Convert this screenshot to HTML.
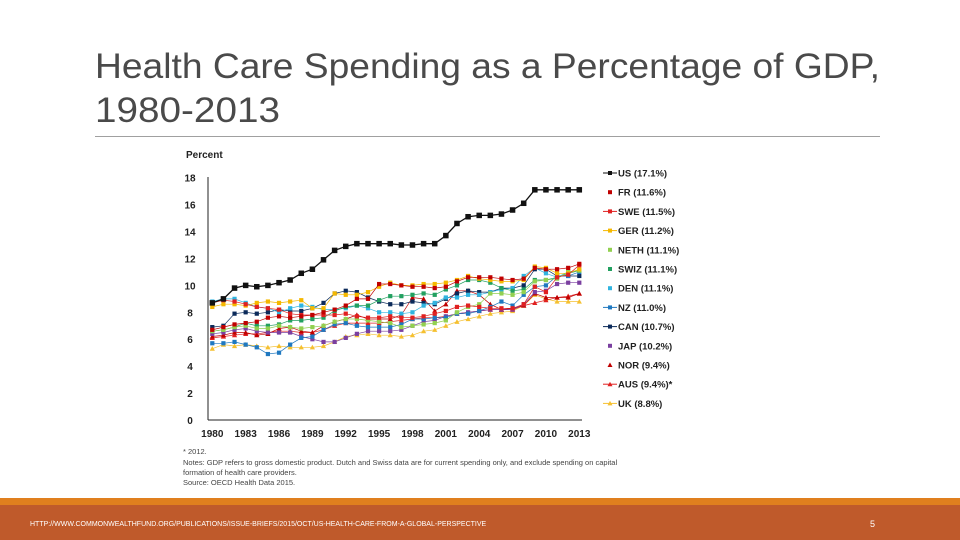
<!DOCTYPE html>
<html><head><meta charset="utf-8"><style>
body{margin:0;width:960px;height:540px;overflow:hidden;background:#fff;font-family:"Liberation Sans",sans-serif}
svg{display:block}
</style></head><body>
<svg id="s" width="960" height="540" viewBox="0 0 960 540">
<text x="95" y="78" font-size="35" fill="#4a4a4a" textLength="785" lengthAdjust="spacingAndGlyphs">Health Care Spending as a Percentage of GDP,</text>
<text x="95" y="122" font-size="35" fill="#4a4a4a" textLength="185" lengthAdjust="spacingAndGlyphs">1980-2013</text>
<line x1="95" y1="136.5" x2="880" y2="136.5" stroke="#a0a0a0" stroke-width="1"/>
<text x="186" y="158" font-size="10" font-weight="bold" fill="#222">Percent</text>
<g id="axes"></g>
<g id="series"></g>
<g id="legend"></g>
<g font-size="7.5" fill="#444">
<text x="183" y="454">* 2012.</text>
<text x="183" y="465">Notes: GDP refers to gross domestic product. Dutch and Swiss data are for current spending only, and exclude spending on capital</text>
<text x="183" y="475">formation of health care providers.</text>
<text x="183" y="485">Source: OECD Health Data 2015.</text>
</g>
<rect x="0" y="498" width="960" height="7" fill="#e07f1e"/>
<rect x="0" y="505" width="960" height="35" fill="#bf5a2b"/>
<text x="30" y="526" font-size="7" fill="#fff">HTTP://WWW.COMMONWEALTHFUND.ORG/PUBLICATIONS/ISSUE-BRIEFS/2015/OCT/US-HEALTH-CARE-FROM-A-GLOBAL-PERSPECTIVE</text>
<text x="870" y="527" font-size="9" fill="#fff">5</text>
</svg>
<script>
const years=[];for(let y=1980;y<=2013;y++)years.push(y);
const yTicks=[0,2,4,6,8,10,12,14,16,18];
const xTickLabels=[1980,1983,1986,1989,1992,1995,1998,2001,2004,2007,2010,2013];
const seriesNames=["US","FR","SWE","GER","NETH","SWIZ","DEN","NZ","CAN","JAP","NOR","AUS","UK"];
const legendLabels=["US (17.1%)","FR (11.6%)","SWE (11.5%)","GER (11.2%)","NETH (11.1%)","SWIZ (11.1%)","DEN (11.1%)","NZ (11.0%)","CAN (10.7%)","JAP (10.2%)","NOR (9.4%)","AUS (9.4%)*","UK (8.8%)"];
const US=[8.7,9.0,9.8,10.0,9.9,10.0,10.2,10.4,10.9,11.2,11.9,12.6,12.9,13.1,13.1,13.1,13.1,13.0,13.0,13.1,13.1,13.7,14.6,15.1,15.2,15.2,15.3,15.6,16.1,17.1,17.1,17.1,17.1,17.1];
const FR=[6.7,6.9,7.1,7.2,7.3,7.6,7.7,7.6,7.7,7.8,8.0,8.2,8.5,9.0,9.0,10.1,10.1,10.0,9.9,9.9,9.8,9.9,10.3,10.6,10.6,10.6,10.5,10.4,10.5,11.3,11.2,11.2,11.3,11.6];
const SWE=[8.7,8.9,8.8,8.6,8.4,8.3,8.2,7.9,7.8,7.8,7.8,7.8,7.9,7.7,7.6,7.6,7.7,7.6,7.6,7.7,7.9,8.1,8.4,8.5,8.4,8.3,8.3,8.3,8.6,9.9,9.5,10.6,10.8,11.5];
const GER=[8.4,8.6,8.6,8.5,8.7,8.8,8.7,8.8,8.9,8.3,8.3,9.4,9.3,9.3,9.5,9.9,10.2,10.0,10.0,10.1,10.1,10.2,10.4,10.7,10.5,10.4,10.3,10.3,10.4,11.4,11.3,10.9,10.9,11.2];
const NETH=[6.6,6.7,6.9,7.0,6.8,6.8,7.0,6.9,6.8,6.9,7.0,7.3,7.5,7.5,7.4,7.3,7.2,6.9,7.0,7.1,7.2,7.4,8.0,8.4,8.6,9.4,9.4,9.3,9.5,10.3,10.4,10.5,11.0,11.1];
const SWIZ=[6.6,6.7,6.9,7.2,7.0,7.0,7.1,7.4,7.4,7.5,7.6,8.1,8.4,8.5,8.5,8.9,9.2,9.2,9.3,9.4,9.3,9.7,10.0,10.4,10.4,10.2,9.8,9.6,9.7,10.4,10.4,10.6,10.9,11.1];
const DEN=[8.8,9.0,9.0,8.7,8.4,8.3,8.0,8.3,8.5,8.4,8.2,8.2,8.3,8.5,8.3,8.0,8.0,7.9,8.0,8.5,8.7,9.1,9.1,9.3,9.3,9.5,9.7,9.8,10.7,11.3,10.9,10.6,11.0,11.1];
const NZ=[5.7,5.7,5.8,5.6,5.4,4.9,5.0,5.6,6.1,6.2,6.7,7.1,7.2,7.0,6.9,6.9,6.9,7.1,7.5,7.5,7.6,7.6,7.9,7.9,8.1,8.4,8.8,8.5,9.3,9.9,10.0,10.7,10.7,11.0];
const CAN=[6.9,7.0,7.9,8.0,7.9,8.0,8.2,8.1,8.1,8.3,8.7,9.4,9.6,9.5,9.1,8.8,8.6,8.6,8.8,8.7,8.6,9.0,9.4,9.6,9.5,9.5,9.8,9.8,10.0,11.2,11.2,10.7,10.7,10.7];
const JAP=[6.4,6.5,6.7,6.8,6.6,6.5,6.5,6.5,6.2,6.0,5.8,5.8,6.1,6.4,6.6,6.6,6.6,6.7,7.0,7.3,7.4,7.7,7.9,8.0,8.1,8.2,8.2,8.2,8.6,9.5,9.6,10.1,10.2,10.2];
const NOR=[6.2,6.3,6.5,6.5,6.3,6.4,6.8,6.9,6.6,6.5,7.0,7.3,7.5,7.8,7.5,7.5,7.5,7.8,9.1,9.0,8.1,8.6,9.6,9.6,9.3,8.6,8.2,8.3,8.5,9.4,9.1,9.1,9.1,9.4];
const AUS=[6.1,6.2,6.3,6.4,6.4,6.5,6.6,6.6,6.5,6.5,6.7,7.0,7.2,7.2,7.2,7.2,7.3,7.4,7.5,7.6,7.6,7.7,7.9,8.0,8.1,8.2,8.2,8.2,8.5,8.7,8.9,9.1,9.2,9.4];
const UK=[5.3,5.6,5.5,5.6,5.5,5.4,5.5,5.4,5.4,5.4,5.5,5.8,6.2,6.3,6.4,6.3,6.3,6.2,6.3,6.6,6.7,7.0,7.3,7.5,7.7,7.9,8.0,8.1,8.5,9.3,9.0,8.8,8.8,8.8];
const seriesValues=[US,FR,SWE,GER,NETH,SWIZ,DEN,NZ,CAN,JAP,NOR,AUS,UK];
const colors=["#111","#c00000","#e02020","#f5b800","#92d050","#22a060","#30b4e0","#1f78c0","#0b2a5a","#7a3fa0","#c00000","#e02020","#f5c030"];
const markers=["sq","sq","sq","sq","sq","sq","sq","sq","sq","sq","tri","tri","tri"];
const ns="http://www.w3.org/2000/svg";
const X=y=>212.3+(y-1980)*(367/33);
const Y=v=>420-v*(242.3/18);
function mk(t,a,p){const e=document.createElementNS(ns,t);for(const k in a)e.setAttribute(k,a[k]);p.appendChild(e);return e;}
const ax=document.getElementById('axes');
const yaxis=mk('line',{x1:208,y1:177,x2:208,y2:420,stroke:'#222','stroke-width':1},ax);


const xaxis=mk('line',{x1:208,y1:420,x2:582,y2:420,stroke:'#222','stroke-width':1},ax);


yTicks.forEach(v=>{const t=mk('text',{x:190,y:Y(v)+4,'font-size':10,'font-weight':'bold',fill:'#222','text-anchor':'middle'},ax);t.textContent=v;

});
xTickLabels.forEach(v=>{const t=mk('text',{x:X(v),y:437,'font-size':10,'font-weight':'bold',fill:'#222','text-anchor':'middle'},ax);t.textContent=v;

});
const sg=document.getElementById('series');
function marker(kind,x,y,c,s,g){if(kind==='sq')return mk('rect',{x:x-s/2,y:y-s/2,width:s,height:s,fill:c},g);
return mk('path',{d:`M${x},${y-s/2-0.5}L${x+s/2+0.5},${y+s/2}L${x-s/2-0.5},${y+s/2}Z`,fill:c},g);}
for(let i=seriesValues.length-1;i>=0;i--){const vals=seriesValues[i];
const g=mk('g',{},sg);


const pts=vals.map((v,j)=>X(years[j]).toFixed(1)+','+Y(v).toFixed(1)).join(' ');
const pl=mk('polyline',{points:pts,fill:'none',stroke:colors[i],'stroke-width':i===0?1.3:0.7},g);


vals.forEach((v,j)=>{const m=marker(markers[i],X(years[j]),Y(v),colors[i],i===0?5.5:4.2,g);

});}
const lg=document.getElementById('legend');
legendLabels.forEach((l,i)=>{const y=173+i*19.2;const g=mk('g',{},lg);


const hasLine=[0,2,3,7,8,11,12].includes(i);
if(hasLine)mk('line',{x1:603,y1:y,x2:617,y2:y,stroke:colors[i],'stroke-width':1},g);
marker(markers[i],610,y,colors[i],4,g);
const t=mk('text',{x:618,y:y+3.5,'font-size':9.5,'font-weight':'bold',fill:'#222'},g);t.textContent=l;});
</script>
</body></html>
